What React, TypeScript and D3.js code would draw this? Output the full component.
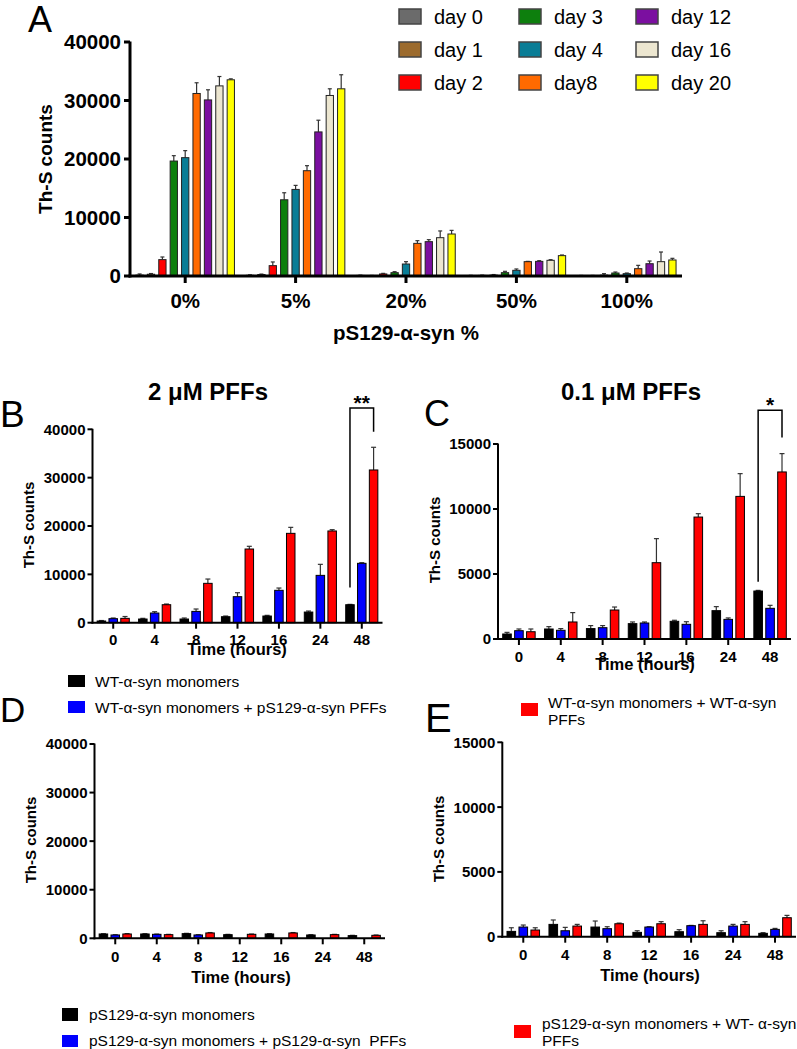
import React from "react";
import * as d3 from "d3";

const FONT = "'Liberation Sans', Arial, Helvetica, sans-serif";

// ---------- Panel A data ----------
const pctCats = ["0%", "5%", "20%", "50%", "100%"];
const dayLabels = ["day 0", "day 1", "day 2", "day 3", "day 4", "day8", "day 12", "day 16", "day 20"];
const day0 = [150, 120, 100, 80, 60];
const day0Err = [200, 80, 50, 40, 40];
const day1 = [300, 250, 60, 100, 60];
const day1Err = [120, 80, 40, 50, 40];
const day2 = [2800, 1770, 350, 150, 150];
const day2Err = [450, 630, 100, 100, 250];
const day3 = [19650, 13030, 570, 570, 510];
const day3Err = [920, 1200, 170, 230, 170];
const day4 = [20230, 14800, 2050, 970, 400];
const day4Err = [1200, 690, 400, 230, 110];
const day8 = [31200, 18000, 5580, 2450, 1250];
const day8Err = [1830, 860, 460, 50, 570];
const day12 = [30100, 24630, 5870, 2500, 2100];
const day12Err = [1730, 2000, 340, 120, 460];
const day16 = [32500, 30860, 6550, 2680, 2450];
const day16Err = [1600, 1140, 1150, 110, 1650];
const day20 = [33540, 32000, 7180, 3480, 2740];
const day20Err = [160, 2400, 620, 110, 280];
const yTicksA = [0, 10000, 20000, 30000, 40000];

// ---------- Panels B-E data ----------
const times = ["0", "4", "8", "12", "16", "24", "48"];

const bBlack = [350, 760, 760, 1240, 1380, 2200, 3720];
const bBlackErr = [100, 140, 210, 140, 140, 210, 70];
const bBlue = [830, 2000, 2340, 5380, 6700, 9790, 12280];
const bBlueErr = [140, 280, 490, 820, 470, 2280, 130];
const bRed = [900, 3720, 8140, 15240, 18480, 18970, 31590];
const bRedErr = [380, 140, 890, 560, 1240, 270, 4690];

const cBlack = [385, 770, 800, 1180, 1360, 2180, 3690];
const cBlackErr = [125, 180, 230, 130, 80, 310, 50];
const cBlue = [640, 670, 870, 1230, 1130, 1510, 2360];
const cBlueErr = [130, 130, 160, 80, 200, 110, 230];
const cRed = [560, 1310, 2230, 5870, 9380, 10970, 12850];
const cRedErr = [210, 720, 230, 1850, 260, 1750, 1410];

const dBlack = [890, 890, 960, 750, 890, 685, 550];
const dBlackErr = [60, 60, 60, 60, 60, 60, 60];
const dBlue = [685, 820, 685, 0, 0, 0, 0];
const dBlueErr = [50, 50, 50, 0, 0, 0, 0];
const dRed = [890, 750, 1100, 820, 1100, 750, 615];
const dRedErr = [80, 60, 80, 60, 80, 60, 60];

const eBlack = [410, 950, 745, 335, 385, 310, 260];
const eBlackErr = [280, 340, 465, 125, 155, 150, 50];
const eBlue = [745, 460, 620, 745, 850, 820, 565];
const eBlueErr = [155, 260, 150, 25, 20, 130, 75];
const eRed = [515, 820, 1000, 1000, 950, 950, 1465];
const eRedErr = [175, 130, 50, 160, 280, 210, 180];

const yTicks40k = [0, 10000, 20000, 30000, 40000];
const yTicks15k = [0, 5000, 10000, 15000];

// significance brackets: [top level, left-foot level, right-foot level]
const sigB = [44400, 7300, 39500];
const sigC = [17600, 4400, 15500];

const groupKeys = ["black", "blue", "red"];
const groupColors = ["#000000", "#0000ff", "#ff0000"];
const dayColors = ["#6b6b6b", "#9c6b2e", "#ff0000", "#0d7f0d", "#0a7d96", "#ff6a00", "#7b0fa0", "#ece6d0", "#ffff00"];

type Series = { key: string; values: number[]; errs: number[] };

const seriesA: Series[] = [
  [day0, day0Err], [day1, day1Err], [day2, day2Err], [day3, day3Err], [day4, day4Err],
  [day8, day8Err], [day12, day12Err], [day16, day16Err], [day20, day20Err],
].map((p, i) => ({ key: dayLabels[i], values: p[0], errs: p[1] }));

const mk = (arr: number[][][]): Series[] => arr.map((p, i) => ({ key: groupKeys[i], values: p[0], errs: p[1] }));
const seriesB = mk([[bBlack, bBlackErr], [bBlue, bBlueErr], [bRed, bRedErr]]);
const seriesC = mk([[cBlack, cBlackErr], [cBlue, cBlueErr], [cRed, cRedErr]]);
const seriesD = mk([[dBlack, dBlackErr], [dBlue, dBlueErr], [dRed, dRedErr]]);
const seriesE = mk([[eBlack, eBlackErr], [eBlue, eBlueErr], [eRed, eRedErr]]);

type PanelProps = {
  cats: string[];
  series: Series[];
  colors: string[];
  xRange: [number, number];
  yRange: [number, number];
  yMax: number;
  yTicks: number[];
  padInner: number;
  padOuter: number;
  capW: number;
  axisW: number;
  tickLen: number;
  tickFont: number;
  yLabelGap: number;
  xLabelY: number;
  barStroke: string;
  errStroke: string;
  sig?: number[];
  sigText?: string;
  sigFont?: number;
};

function Panel(p: PanelProps) {
  const x0 = d3.scaleBand<string>().domain(p.cats).range(p.xRange).padding(0);
  const x1 = d3
    .scaleBand<string>()
    .domain(p.series.map((s) => s.key))
    .range([0, x0.bandwidth()])
    .paddingInner(p.padInner)
    .paddingOuter(p.padOuter);
  const y = d3.scaleLinear().domain([0, p.yMax]).range(p.yRange);
  const ax = p.xRange[0];
  const y0 = y(0);
  const bw = x1.bandwidth();
  let sigEl = null;
  if (p.sig) {
    const last = p.cats[p.cats.length - 1];
    const sL = p.series[0].key;
    const sR = p.series[p.series.length - 1].key;
    const xl = (x0(last) as number) + (x1(sL) as number) + bw / 2;
    const xr = (x0(last) as number) + (x1(sR) as number) + bw / 2;
    const yt = y(p.sig[0]);
    sigEl = (
      <g>
        <path
          d={`M${xl},${y(p.sig[1])}V${yt}H${xr}V${y(p.sig[2])}`}
          fill="none"
          stroke="#000"
          strokeWidth={1.5}
        />
        <text x={(xl + xr) / 2} y={yt + 2} textAnchor="middle" fontSize={p.sigFont} fontWeight="bold">
          {p.sigText}
        </text>
      </g>
    );
  }
  return (
    <g fontFamily={FONT}>
      {p.series.map((s, si) => (
        <g key={s.key}>
          {p.cats.map((c, ci) => {
            const v = s.values[ci];
            if (!v) return null;
            const bx = (x0(c) as number) + (x1(s.key) as number);
            const cx = bx + bw / 2;
            const top = y(v);
            const et = y(v + s.errs[ci]);
            return (
              <g key={c}>
                <line x1={cx} x2={cx} y1={top} y2={et} stroke={p.errStroke} strokeWidth={1.2} />
                <line x1={cx - p.capW / 2} x2={cx + p.capW / 2} y1={et} y2={et} stroke={p.errStroke} strokeWidth={1.2} />
                <rect
                  x={bx}
                  y={top}
                  width={bw}
                  height={Math.max(0, y0 - top)}
                  fill={p.colors[si]}
                  stroke={p.barStroke}
                  strokeWidth={1}
                />
              </g>
            );
          })}
        </g>
      ))}
      {/* y axis */}
      <line x1={ax} x2={ax} y1={y0 + p.axisW / 2} y2={y(p.yMax) - 0.5} stroke="#000" strokeWidth={p.axisW} />
      {p.yTicks.map((t) => (
        <g key={t}>
          <line x1={ax - p.tickLen} x2={ax} y1={y(t)} y2={y(t)} stroke="#000" strokeWidth={p.axisW} />
          <text
            x={ax - p.yLabelGap}
            y={y(t)}
            dy="0.36em"
            textAnchor="end"
            fontSize={p.tickFont}
            fontWeight="bold"
          >
            {t}
          </text>
        </g>
      ))}
      {/* x axis */}
      <line x1={ax - p.axisW / 2} x2={p.xRange[1]} y1={y0} y2={y0} stroke="#000" strokeWidth={p.axisW} />
      {p.cats.map((c) => {
        const cx = (x0(c) as number) + x0.bandwidth() / 2;
        return (
          <g key={c}>
            <line x1={cx} x2={cx} y1={y0} y2={y0 + p.tickLen + 1} stroke="#000" strokeWidth={p.axisW} />
            <text x={cx} y={p.xLabelY} textAnchor="middle" fontSize={p.tickFont} fontWeight="bold">
              {c}
            </text>
          </g>
        );
      })}
      {sigEl}
    </g>
  );
}

function YTitle({ x, y, size, text }: { x: number; y: number; size: number; text: string }) {
  return (
    <text
      transform={`translate(${x},${y}) rotate(-90)`}
      textAnchor="middle"
      dy="0.36em"
      fontSize={size}
      fontWeight="bold"
      fontFamily={FONT}
    >
      {text}
    </text>
  );
}

function Txt(props: any) {
  return <text fontFamily={FONT} {...props} />;
}

const smallCommon = {
  padInner: 0.28,
  padOuter: 0.394,
  capW: 5,
  axisW: 2,
  tickLen: 5,
  tickFont: 15,
  yLabelGap: 7,
  barStroke: "#000",
  errStroke: "#333",
};

export default function App() {
  const legendA = dayLabels.map((d, i) => ({
    label: d,
    color: dayColors[i],
    col: Math.floor(i / 3),
    row: i % 3,
  }));
  const colSw = [399, 519, 636];
  const rowC = [16.5, 49.5, 82.5];
  return (
    <svg
      width={797}
      height={1049}
      style={{ position: "absolute", left: 0, top: 0, background: "#fff" }}
      fontFamily={FONT}
    >
      <rect x={0} y={0} width={797} height={1049} fill="#fff" />

      {/* ---------- Panel A ---------- */}
      <Txt x={28} y={32} fontSize={36}>A</Txt>
      <Panel
        cats={pctCats}
        series={seriesA}
        colors={dayColors}
        xRange={[130, 682]}
        yRange={[276, 42]}
        yMax={40000}
        yTicks={yTicksA}
        padInner={0.36}
        padOuter={0.522}
        capW={4}
        axisW={3}
        tickLen={6}
        tickFont={20.5}
        yLabelGap={9}
        xLabelY={308}
        barStroke="#222"
        errStroke="#333"
      />
      <YTitle x={45} y={159} size={19} text="Th-S counts" />
      <Txt x={406} y={340} textAnchor="middle" fontSize={20.5} fontWeight="bold">
        pS129-α-syn %
      </Txt>
      {legendA.map((l) => (
        <g key={l.label}>
          <rect
            x={colSw[l.col]}
            y={rowC[l.row] - 7.5}
            width={22}
            height={15}
            fill={l.color}
            stroke="#444"
            strokeWidth={1.5}
          />
          <Txt x={colSw[l.col] + 35} y={rowC[l.row] + 7} fontSize={20}>
            {l.label}
          </Txt>
        </g>
      ))}

      {/* ---------- Panel B ---------- */}
      <Txt x={0} y={427} fontSize={37}>B</Txt>
      <Txt x={208} y={400} textAnchor="middle" fontSize={24} fontWeight="bold">
        2 μM PFFs
      </Txt>
      <Panel
        {...smallCommon}
        cats={times}
        series={seriesB}
        colors={groupColors}
        xRange={[92.5, 382.5]}
        yRange={[622.7, 429.3]}
        yMax={40000}
        yTicks={yTicks40k}
        xLabelY={645}
        sig={sigB}
        sigText="**"
        sigFont={21}
      />
      <YTitle x={28.5} y={525} size={15} text="Th-S counts" />
      <Txt x={237} y={655} textAnchor="middle" fontSize={16.5} fontWeight="bold">
        Time (hours)
      </Txt>
      <rect x={68} y={675} width={17} height={12} fill="#000" />
      <Txt x={95} y={686.5} fontSize={15.5}>WT-α-syn monomers</Txt>
      <rect x={68} y={701} width={17} height={12} fill="#0000ff" />
      <Txt x={95} y={712.5} fontSize={15.5}>WT-α-syn monomers + pS129-α-syn PFFs</Txt>

      {/* ---------- Panel C ---------- */}
      <Txt x={424} y={426} fontSize={36}>C</Txt>
      <Txt x={631} y={400} textAnchor="middle" fontSize={24} fontWeight="bold">
        0.1 μM PFFs
      </Txt>
      <Panel
        {...smallCommon}
        cats={times}
        series={seriesC}
        colors={groupColors}
        xRange={[498, 791]}
        yRange={[639, 444]}
        yMax={15000}
        yTicks={yTicks15k}
        xLabelY={662}
        sig={sigC}
        sigText="*"
        sigFont={21}
      />
      <YTitle x={435} y={540} size={15} text="Th-S counts" />
      <Txt x={645} y={670} textAnchor="middle" fontSize={16.5} fontWeight="bold">
        Time (hours)
      </Txt>
      <rect x={521} y={703} width={17} height={13} fill="#ff0000" />
      <Txt x={548} y={708} fontSize={15.5}>WT-α-syn monomers + WT-α-syn</Txt>
      <Txt x={548} y={725} fontSize={15.5}>PFFs</Txt>

      {/* ---------- Panel D ---------- */}
      <Txt x={0} y={722} fontSize={35}>D</Txt>
      <Panel
        {...smallCommon}
        cats={times}
        series={seriesD}
        colors={groupColors}
        xRange={[94.5, 385]}
        yRange={[938.3, 744]}
        yMax={40000}
        yTicks={yTicks40k}
        xLabelY={962}
      />
      <YTitle x={31} y={840} size={15} text="Th-S counts" />
      <Txt x={241} y={983} textAnchor="middle" fontSize={16.5} fontWeight="bold">
        Time (hours)
      </Txt>
      <rect x={62} y={1008} width={16} height={13} fill="#000" />
      <Txt x={89} y={1020} fontSize={15.5}>pS129-α-syn monomers</Txt>
      <rect x={62} y={1035} width={16} height={12} fill="#0000ff" />
      <Txt x={89} y={1046} fontSize={15.5} style={{ whiteSpace: "pre" }}>
        {"pS129-α-syn monomers + pS129-α-syn  PFFs"}
      </Txt>

      {/* ---------- Panel E ---------- */}
      <Txt x={425} y={732} fontSize={40}>E</Txt>
      <Panel
        {...smallCommon}
        cats={times}
        series={seriesE}
        colors={groupColors}
        xRange={[502.3, 796]}
        yRange={[936.7, 742.3]}
        yMax={15000}
        yTicks={yTicks15k}
        xLabelY={960}
      />
      <YTitle x={438.5} y={839} size={15} text="Th-S counts" />
      <Txt x={650} y={981} textAnchor="middle" fontSize={16.5} fontWeight="bold">
        Time (hours)
      </Txt>
      <rect x={514} y={1025} width={17} height={13} fill="#ff0000" />
      <Txt x={542} y={1029} fontSize={15.5}>pS129-α-syn monomers + WT- α-syn</Txt>
      <Txt x={542} y={1046} fontSize={15.5}>PFFs</Txt>
    </svg>
  );
}
